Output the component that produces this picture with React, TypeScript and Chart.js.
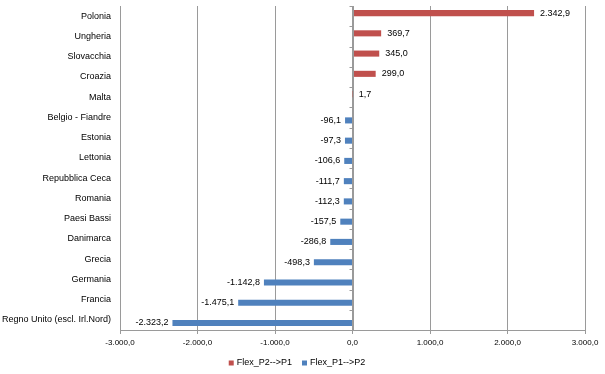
import React, { useEffect, useRef } from "react";
import { Chart, registerables } from "chart.js";
Chart.register(...registerables);

const categories = [
  "Polonia",
  "Ungheria",
  "Slovacchia",
  "Croazia",
  "Malta",
  "Belgio - Fiandre",
  "Estonia",
  "Lettonia",
  "Repubblica Ceca",
  "Romania",
  "Paesi Bassi",
  "Danimarca",
  "Grecia",
  "Germania",
  "Francia",
  "Regno Unito (escl. Irl.Nord)",
];
const seriesNames = ["Flex_P2-->P1", "Flex_P1-->P2"];
const flexP2toP1 = [2342.9, 369.7, 345.0, 299.0, 1.7, null, null, null, null, null, null, null, null, null, null, null];
const flexP1toP2 = [null, null, null, null, null, -96.1, -97.3, -106.6, -111.7, -112.3, -157.5, -286.8, -498.3, -1142.8, -1475.1, -2323.2];
const xMin = -3000;
const xMax = 3000;
const xStep = 1000;

const RED = "#C0504D";
const BLUE = "#4F81BD";
const GRID = "#9a9a9a";
const FONT = "'Liberation Sans', Arial, sans-serif";

function fmt(v: number): string {
  const s = Math.abs(v).toFixed(1);
  const [i, d] = s.split(".");
  const ii = i.replace(/\B(?=(\d{3})+(?!\d))/g, ".");
  return (v < 0 ? "-" : "") + ii + "," + d;
}

const labelsPlugin = {
  id: "valueLabels",
  afterDatasetsDraw(chart: any) {
    const ctx = chart.ctx;
    ctx.save();
    ctx.font = `9px ${FONT}`;
    ctx.fillStyle = "#000";
    ctx.textBaseline = "middle";
    chart.data.datasets.forEach((ds: any, di: number) => {
      const meta = chart.getDatasetMeta(di);
      meta.data.forEach((el: any, i: number) => {
        const v = ds.data[i];
        if (v === null || v === undefined) return;
        if (v >= 0) {
          ctx.textAlign = "left";
          ctx.fillText(fmt(v), el.x + 6, el.y);
        } else {
          ctx.textAlign = "right";
          ctx.fillText(fmt(v), el.x - 4, el.y);
        }
      });
    });
    ctx.restore();
  },
};

const zeroAxisPlugin = {
  id: "zeroAxis",
  afterDraw(chart: any) {
    const ctx = chart.ctx;
    const x0 = Math.round(chart.scales.x.getPixelForValue(0)) + 0.5;
    const { top, bottom } = chart.chartArea;
    const n = categories.length;
    ctx.save();
    ctx.strokeStyle = GRID;
    ctx.lineWidth = 1;
    ctx.beginPath();
    ctx.moveTo(x0, top);
    ctx.lineTo(x0, bottom);
    for (let i = 0; i <= n; i++) {
      const y = Math.round(top + (i * (bottom - top)) / n) + 0.5;
      ctx.moveTo(x0 - 4, y);
      ctx.lineTo(x0, y);
    }
    ctx.stroke();

    // legend
    ctx.font = `9px ${FONT}`;
    ctx.textBaseline = "middle";
    ctx.textAlign = "left";
    const colors = [RED, BLUE];
    const ly = 363;
    const gap = 10;
    const box = 5;
    const widths = seriesNames.map((s) => ctx.measureText(s).width);
    const total = widths.reduce((a, w) => a + box + 3 + w, 0) + gap;
    let x = 297 - total / 2;
    seriesNames.forEach((s, i) => {
      ctx.fillStyle = colors[i];
      ctx.fillRect(x, ly - box / 2, box, box);
      ctx.fillStyle = "#000";
      ctx.fillText(s, x + box + 3, ly);
      x += box + 3 + widths[i] + gap;
    });
    ctx.restore();
  },
};

export default function App() {
  const ref = useRef<HTMLCanvasElement | null>(null);
  useEffect(() => {
    document.body.style.margin = "0";
    const canvas = ref.current!;
    const chart = new Chart(canvas, {
      type: "bar",
      data: {
        labels: categories,
        datasets: [
          {
            label: seriesNames[0],
            data: flexP2toP1 as any,
            backgroundColor: RED,
            categoryPercentage: 0.6,
            barPercentage: 1,
          },
          {
            label: seriesNames[1],
            data: flexP1toP2 as any,
            backgroundColor: BLUE,
            categoryPercentage: 0.6,
            barPercentage: 1,
          },
        ],
      },
      options: {
        indexAxis: "y",
        animation: false,
        responsive: false,
        maintainAspectRatio: false,
        layout: { padding: { left: 0, right: 20, top: 6, bottom: 0 } },
        plugins: {
          legend: { display: false },
          tooltip: { enabled: false },
        },
        scales: {
          x: {
            min: xMin,
            max: xMax,
            ticks: {
              stepSize: xStep,
              color: "#000",
              font: { size: 8, family: FONT },
              padding: 4,
              maxRotation: 0,
              callback: (v: any) => fmt(Number(v)),
            },
            grid: { color: GRID, tickLength: 4, drawTicks: true },
            border: { color: GRID },
            afterFit: (s: any) => {
              s.height = 44;
              s.paddingLeft = 0;
              s.paddingRight = 0;
            },
          },
          y: {
            ticks: {
              color: "#000",
              font: { size: 9, family: FONT },
              padding: 9,
              autoSkip: false,
            },
            grid: { display: false, drawTicks: false },
            border: { display: false },
            afterFit: (s: any) => {
              s.width = 120;
              s.paddingTop = 0;
              s.paddingBottom = 0;
            },
          },
        },
      },
      plugins: [labelsPlugin, zeroAxisPlugin],
    });
    return () => chart.destroy();
  }, []);
  return (
    <div style={{ width: 605, height: 374 }}>
      <canvas ref={ref} width={605} height={374} style={{ width: 605, height: 374, display: "block" }} />
    </div>
  );
}
